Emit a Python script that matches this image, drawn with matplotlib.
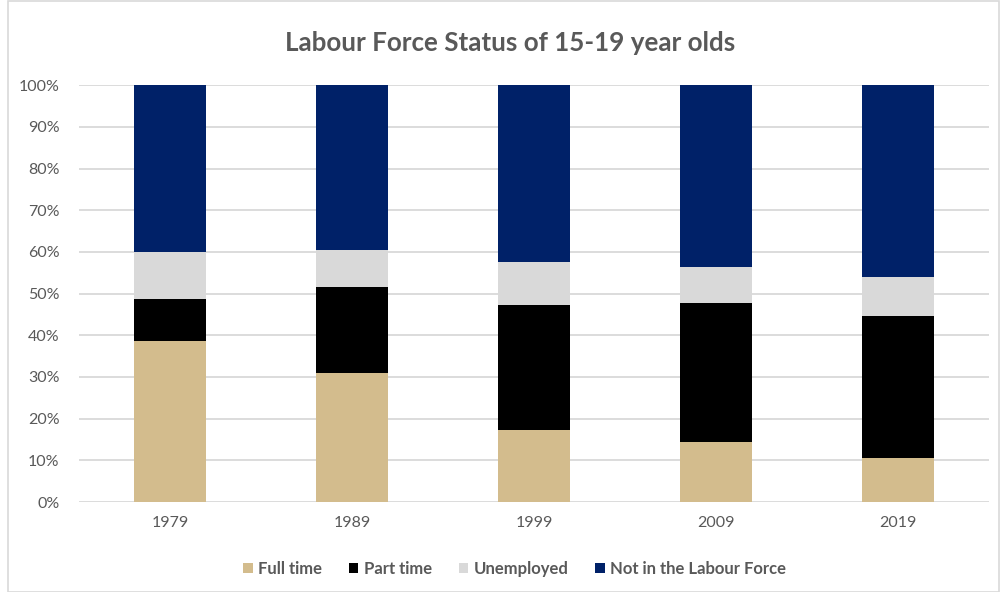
import numpy
import matplotlib
matplotlib.use("Agg")
import matplotlib.pyplot as pyplot
import matplotlib.ticker as ticker
from matplotlib.patches import Rectangle

pyplot.rcParams["font.family"] = ["Lato", "DejaVu Sans"]

years = ["1979", "1989", "1999", "2009", "2019"]
fullTime = [38.6, 31.0, 17.3, 14.3, 10.6]
partTime = [10.1, 20.5, 30.0, 33.5, 34.0]
unemployed = [11.3, 9.0, 10.3, 8.6, 9.5]
notInLabourForce = [40.0, 39.5, 42.4, 43.6, 45.9]

seriesNames = ["Full time", "Part time", "Unemployed", "Not in the Labour Force"]
seriesColors = ["#D3BC8D", "#000000", "#D9D9D9", "#002168"]
textColor = "#595959"

figure = pyplot.figure( figsize=(10.01, 5.92), dpi=100 )
axes = figure.add_axes( [0.079, 0.152, 0.909, 0.704] )

x = numpy.arange( len(years) )
bottom = numpy.zeros( len(years) )
for name, values, color in zip( seriesNames, [fullTime, partTime, unemployed, notInLabourForce], seriesColors ):
    values = numpy.asarray( values ) / 100.0
    axes.bar( x, values, width=0.4, bottom=bottom, color=color, label=name, zorder=3 )
    bottom += values

axes.set_xlim( -0.5, len(years) - 0.5 )
axes.set_ylim( 0, 1 )
axes.set_xticks( x, years )
axes.yaxis.set_major_locator( ticker.MultipleLocator( 0.1 ) )
axes.yaxis.set_major_formatter( ticker.PercentFormatter( 1.0, decimals=0 ) )
axes.tick_params( length=0, labelsize=11.5, labelcolor=textColor )
axes.tick_params( axis="x", pad=10 )
axes.tick_params( axis="y", pad=14 )
for spine in axes.spines.values():
    spine.set_visible( False )
axes.grid( axis="y", color="#D9D9D9", linewidth=1.3, zorder=0 )
axes.set_axisbelow( True )

figure.suptitle( "Labour Force Status of 15-19 year olds", x=0.51, y=0.947,
                 fontsize=18.7, fontweight="bold", color=textColor )

axes.legend( loc="upper center", bbox_to_anchor=(0.479, -0.105), ncol=4, frameon=False,
             handlelength=0.55, handleheight=0.55, handletextpad=0.35, columnspacing=1.6,
             prop={"size": 12, "weight": "bold"}, labelcolor=textColor )

figure.patches.append( Rectangle( (0.008, 0.0), 0.99, 0.998, transform=figure.transFigure,
                                  fill=False, edgecolor="#D9D9D9", linewidth=1.2 ) )

pyplot.savefig( "out.png", dpi=100 )
